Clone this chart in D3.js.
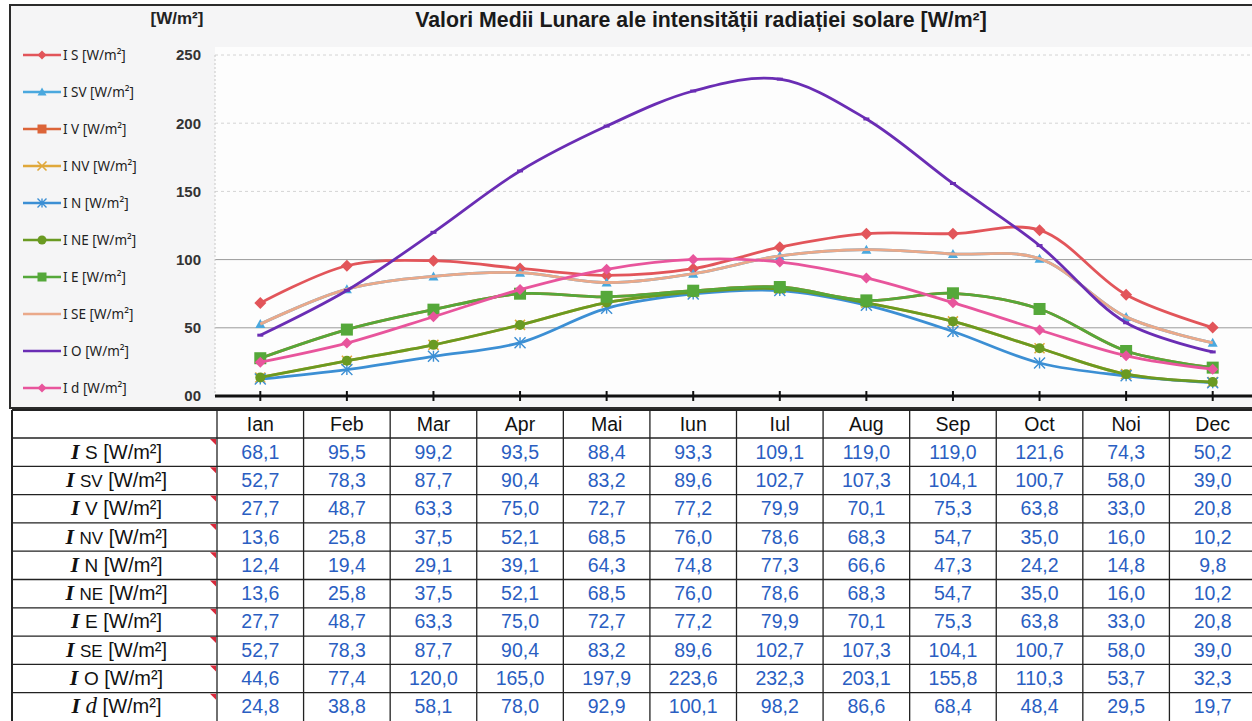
<!DOCTYPE html>
<html><head><meta charset="utf-8">
<script src="https://cdn.jsdelivr.net/npm/d3@7"></script>
<style>
body{margin:0;background:#fff;}
svg{display:block;}
</style></head>
<body>
<svg id="c" width="1252" height="721"></svg>
<script>
const months = ["Ian","Feb","Mar","Apr","Mai","Iun","Iul","Aug","Sep","Oct","Noi","Dec"];
const seriesKeys = ["S","SV","V","NV","N","NE","E","SE","O","d"];
const IS  = [68.1,95.5,99.2,93.5,88.4,93.3,109.1,119.0,119.0,121.6,74.3,50.2];
const ISV = [52.7,78.3,87.7,90.4,83.2,89.6,102.7,107.3,104.1,100.7,58.0,39.0];
const IV  = [27.7,48.7,63.3,75.0,72.7,77.2,79.9,70.1,75.3,63.8,33.0,20.8];
const INV = [13.6,25.8,37.5,52.1,68.5,76.0,78.6,68.3,54.7,35.0,16.0,10.2];
const IN  = [12.4,19.4,29.1,39.1,64.3,74.8,77.3,66.6,47.3,24.2,14.8,9.8];
const INE = [13.6,25.8,37.5,52.1,68.5,76.0,78.6,68.3,54.7,35.0,16.0,10.2];
const IE  = [27.7,48.7,63.3,75.0,72.7,77.2,79.9,70.1,75.3,63.8,33.0,20.8];
const ISE = [52.7,78.3,87.7,90.4,83.2,89.6,102.7,107.3,104.1,100.7,58.0,39.0];
const IO  = [44.6,77.4,120.0,165.0,197.9,223.6,232.3,203.1,155.8,110.3,53.7,32.3];
const Id  = [24.8,38.8,58.1,78.0,92.9,100.1,98.2,86.6,68.4,48.4,29.5,19.7];
const yTicks = [0,50,100,150,200,250];
const yTickLabels = ["00","50","100","150","200","250"];
const title = "Valori Medii Lunare ale intensității radiației solare [W/m²]";
const unit = "[W/m²]";

const values = [IS,ISV,IV,INV,IN,INE,IE,ISE,IO,Id];
const colors = ["#e2555a","#4aa8de","#dc6438","#e0a83a","#3c8fd4","#6a9a22","#55a83a","#eaa98a","#6a2db4","#e8559c"];
const markers = ["diamond","triangle","square","x","asterisk","circle","square","none","dash","diamond"];
const markerSize = [12,10,10,10,11,10,12,0,6,11];

const svg = d3.select("#c");
svg.append("rect").attr("x",10).attr("y",5).attr("width",1250).attr("height",403)
  .attr("fill","#f5f5f6").attr("stroke","#2b2b2b").attr("stroke-width",2);
const plotL = 215, plotR = 1256, plotT = 55, plotB = 396;
svg.append("rect").attr("x",plotL).attr("y",plotT-8).attr("width",plotR-plotL).attr("height",plotB-plotT+8).attr("fill","#fdfdfd");

const x = d3.scaleBand().domain(months).range([217,1256]);
const xc = m => x(m) + x.bandwidth()/2;
const y = d3.scaleLinear().domain([0,250]).range([plotB,plotT]);

const g = svg.append("g");
yTicks.filter(t=>t>0).forEach(t=>{
  g.append("line").attr("x1",plotL).attr("x2",plotR).attr("y1",y(t)).attr("y2",y(t))
   .attr("stroke", t<=100 ? "#9a9a9a" : "#d4d4d4")
   .attr("stroke-width",1)
   .attr("stroke-dasharray", t<=100 ? null : "3,3");
});
g.append("line").attr("x1",plotL).attr("x2",plotL).attr("y1",plotT).attr("y2",plotB)
 .attr("stroke","#c8c8c8").attr("stroke-dasharray","2,2");

const yAxis = d3.axisLeft(y).tickValues(yTicks).tickSize(0).tickFormat((d,i)=>yTickLabels[i]);
const ya = svg.append("g").attr("transform","translate(204,0)").call(yAxis);
ya.select(".domain").remove();
ya.selectAll("text").attr("font-family","Liberation Sans, Arial, sans-serif").attr("font-size",15)
  .attr("font-weight","bold").attr("fill","#333");

svg.append("text").attr("x",177).attr("y",24).attr("text-anchor","middle")
  .attr("font-family","Liberation Sans, Arial, sans-serif").attr("font-weight","bold")
  .attr("font-size",17).attr("fill","#222").text(unit);
svg.append("text").attr("x",701).attr("y",27).attr("text-anchor","middle")
  .attr("font-family","Liberation Sans, Arial, sans-serif").attr("font-weight","bold")
  .attr("font-size",21.3).attr("fill","#1a1a1a").text(title);

svg.append("line").attr("x1",plotL).attr("x2",1252).attr("y1",plotB).attr("y2",plotB)
  .attr("stroke","#111").attr("stroke-width",3);
months.forEach(m=>{
  svg.append("line").attr("x1",xc(m)).attr("x2",xc(m)).attr("y1",plotB-5).attr("y2",plotB+5)
   .attr("stroke","#111").attr("stroke-width",2);
});

function drawMarker(sel, type, cx, cy, s, color){
  const h = s/2;
  if(type==="diamond"){
    sel.append("path").attr("d",`M${cx},${cy-h}L${cx+h},${cy}L${cx},${cy+h}L${cx-h},${cy}Z`).attr("fill",color);
  } else if(type==="triangle"){
    sel.append("path").attr("d",`M${cx},${cy-h}L${cx+h},${cy+h*0.8}L${cx-h},${cy+h*0.8}Z`).attr("fill",color);
  } else if(type==="square"){
    sel.append("rect").attr("x",cx-h).attr("y",cy-h).attr("width",s).attr("height",s).attr("fill",color);
  } else if(type==="circle"){
    sel.append("circle").attr("cx",cx).attr("cy",cy).attr("r",h).attr("fill",color);
  } else if(type==="x"){
    sel.append("path").attr("d",`M${cx-h},${cy-h}L${cx+h},${cy+h}M${cx-h},${cy+h}L${cx+h},${cy-h}`)
      .attr("stroke",color).attr("stroke-width",1.6);
  } else if(type==="asterisk"){
    sel.append("path").attr("d",`M${cx-h},${cy-h}L${cx+h},${cy+h}M${cx-h},${cy+h}L${cx+h},${cy-h}M${cx},${cy-h}L${cx},${cy+h}`)
      .attr("stroke",color).attr("stroke-width",1.4);
  } else if(type==="dash"){
    sel.append("path").attr("d",`M${cx-h},${cy}L${cx+h},${cy}`).attr("stroke",color).attr("stroke-width",3);
  }
}

const line = d3.line().x((d,i)=>xc(months[i])).y(d=>y(d)).curve(d3.curveCatmullRom.alpha(0.5));
const lines = svg.append("g");
values.forEach((vals,k)=>{
  const sg = lines.append("g");
  sg.append("path").attr("d",line(vals)).attr("fill","none").attr("stroke",colors[k])
    .attr("stroke-width",2.8).attr("stroke-linejoin","round");
  if(markers[k]!=="none"){
    vals.forEach((v,i)=>drawMarker(sg,markers[k],xc(months[i]),y(v),markerSize[k],colors[k]));
  }
});

const leg = svg.append("g");
seriesKeys.forEach((key,k)=>{
  const ly = 55 + k*37;
  leg.append("line").attr("x1",23).attr("x2",61).attr("y1",ly).attr("y2",ly)
    .attr("stroke",colors[k]).attr("stroke-width",2.4);
  if(markers[k]!=="none" && markers[k]!=="dash") drawMarker(leg,markers[k],42,ly,Math.min(markerSize[k],9),colors[k]);
  leg.append("text").attr("x",63).attr("y",ly+5)
    .attr("font-family","Noto Sans, Open Sans, sans-serif").attr("font-size",13.5).attr("fill","#222")
    .text("I " + key + " [W/m²]");
});

const tTop = 410, hRow = 28, rH = 28.3, labL = 12, labR = 217;
const tb = svg.append("g");
tb.append("rect").attr("x",labL).attr("y",tTop).attr("width",1252-labL+5).attr("height",321).attr("fill","#fff");
months.forEach(m=>{
  tb.append("text").attr("x",xc(m)).attr("y",tTop+hRow/2+7).attr("text-anchor","middle")
    .attr("font-family","Liberation Sans, Arial, sans-serif").attr("font-size",19.5).attr("fill","#111").text(m);
});
seriesKeys.forEach((key,k)=>{
  const ry = tTop + hRow + k*rH;
  const t = tb.append("text").attr("x",(labL+labR)/2+2).attr("y",ry+rH/2+6.5).attr("text-anchor","middle")
     .attr("fill","#111");
  t.append("tspan").attr("font-family","Liberation Serif, Times New Roman, serif").attr("font-style","italic")
     .attr("font-weight","bold").attr("font-size",22).text("I ");
  if(key==="d"){
    t.append("tspan").attr("font-family","Liberation Serif, Times New Roman, serif").attr("font-style","italic")
      .attr("font-size",23).text("d");
  } else {
    t.append("tspan").attr("font-family","Liberation Sans, Arial, sans-serif")
      .attr("font-size", key.length>1 ? 17 : 19).text(key);
  }
  t.append("tspan").attr("font-family","Liberation Sans, Arial, sans-serif").attr("font-size",20).text(" [W/m²]");
  tb.append("path").attr("d",`M${labR-7},${ry+1}L${labR-1},${ry+1}L${labR-1},${ry+7}Z`).attr("fill","#d8283a");
  values[k].forEach((v,i)=>{
    tb.append("text").attr("x",xc(months[i])).attr("y",ry+rH/2+6.5).attr("text-anchor","middle")
      .attr("font-family","Liberation Sans, Arial, sans-serif").attr("font-size",19.5).attr("fill","#2a5ec2")
      .text(v.toFixed(1).replace(".",","));
  });
});
const gridC = "#222";
for(let r=0;r<=10;r++){
  const yy = r===0 ? tTop : tTop + hRow + (r-1)*rH;
  tb.append("line").attr("x1",labL).attr("x2",1252).attr("y1",yy).attr("y2",yy)
    .attr("stroke",gridC).attr("stroke-width", r===0?2:1.3);
}
tb.append("line").attr("x1",labL).attr("x2",labL).attr("y1",tTop).attr("y2",721).attr("stroke",gridC).attr("stroke-width",2);
months.forEach(m=>{
  tb.append("line").attr("x1",x(m)).attr("x2",x(m)).attr("y1",tTop).attr("y2",721).attr("stroke",gridC).attr("stroke-width",1.3);
});
</script>
</body></html>
